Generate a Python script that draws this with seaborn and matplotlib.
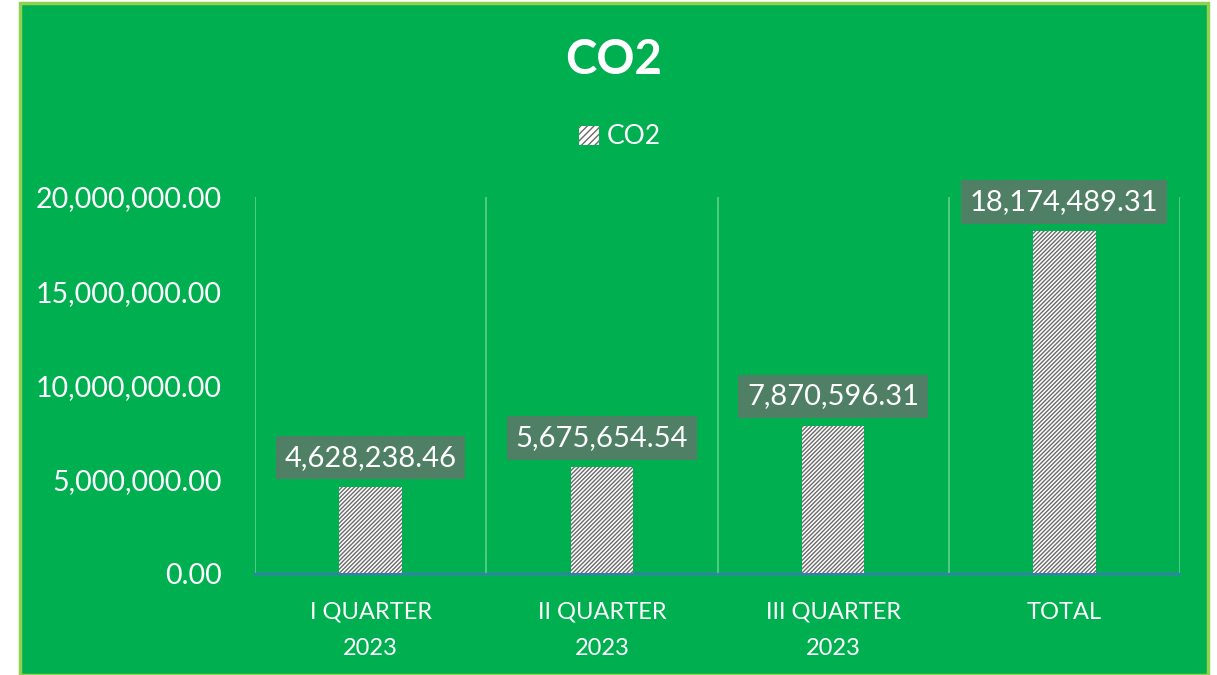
import matplotlib
matplotlib.use("Agg")
from matplotlib import pyplot as plt
from matplotlib.patches import Rectangle, Patch
from matplotlib.ticker import FuncFormatter
import pandas as pd
import seaborn as sns

# ------------------------------- Data --------------------------------
categories = ["I QUARTER\n2023", "II QUARTER\n2023", "III QUARTER\n2023", "TOTAL"]
co2_values = [4628238.46, 5675654.54, 7870596.31, 18174489.31]
y_ticks = [0, 5000000, 10000000, 15000000, 20000000]

GREEN = "#00B050"
BORDER = "#92D050"
LABEL_BOX = "#4F7F65"

sns.set_style("white")
plt.rcParams["font.family"] = ["Lato", "DejaVu Sans"]
plt.rcParams["hatch.color"] = "#6a6a6a"
plt.rcParams["hatch.linewidth"] = 1.0

df = pd.DataFrame({"Period": categories, "CO2": co2_values})

fig = plt.figure(figsize=(12.17, 6.75), dpi=100)
fig.patch.set_facecolor("white")
# green chart panel
fig.patches.append(Rectangle((20 / 1217, 0), 1188 / 1217, 1 - 3 / 675, transform=fig.transFigure,
                             facecolor=GREEN, edgecolor=BORDER, linewidth=2.5, zorder=-10))

ax = fig.add_axes([255 / 1217, 1 - 574 / 675, 925 / 1217, 377 / 675])
ax.set_zorder(2)
ax.set_facecolor("none")

sns.barplot(data=df, x="Period", y="CO2", ax=ax, color="white", width=0.27,
            edgecolor="#6a6a6a", linewidth=0, saturation=1, zorder=3)
for bar in ax.patches:
    bar.set_hatch("/" * 8)

# category separators
for xpos in [-0.5, 0.5, 1.5, 2.5, 3.5]:
    ax.axvline(xpos, color="#5FD08A", linewidth=1.2, zorder=1)

ax.set_xlim(-0.5, 3.5)
ax.set_ylim(0, 20000000)
ax.set_yticks(y_ticks)
ax.yaxis.set_major_formatter(FuncFormatter(lambda v, _: f"{v:,.2f}"))
ax.tick_params(axis="y", length=0, pad=24, labelsize=20.5, labelcolor="white")
ax.tick_params(axis="x", length=0, pad=20, labelsize=17, labelcolor="white")
for lab in ax.get_xticklabels():
    lab.set_linespacing(1.9)
ax.set_xlabel("")
ax.set_ylabel("")
for side in ["top", "right", "left"]:
    ax.spines[side].set_visible(False)
ax.spines["bottom"].set_color("#4472C4")
ax.spines["bottom"].set_linewidth(1.5)
ax.spines["bottom"].set_zorder(4)

# data labels
for i, v in enumerate(co2_values):
    ax.annotate(f"{v:,.2f}", (i, v), xytext=(0, 21), textcoords="offset points",
                ha="center", va="center", fontsize=21, color="white", zorder=5,
                bbox=dict(boxstyle="square,pad=0.3", facecolor=LABEL_BOX, edgecolor="none"))

fig.text(614 / 1217, 1 - 60 / 675, "CO2", ha="center", va="center", fontsize=34,
         fontweight="bold", color="white")

handle = Patch(facecolor="white", edgecolor="#6a6a6a", linewidth=0, hatch="/" * 5)
leg = fig.legend(handles=[handle], labels=["CO2"], loc="center", bbox_to_anchor=(620 / 1217, 1 - 137 / 675),
                 frameon=False, fontsize=19, handlelength=0.75, handleheight=0.75, handletextpad=0.3)
for t in leg.get_texts():
    t.set_color("white")

fig.savefig("out.png", dpi=100, facecolor=fig.get_facecolor())
